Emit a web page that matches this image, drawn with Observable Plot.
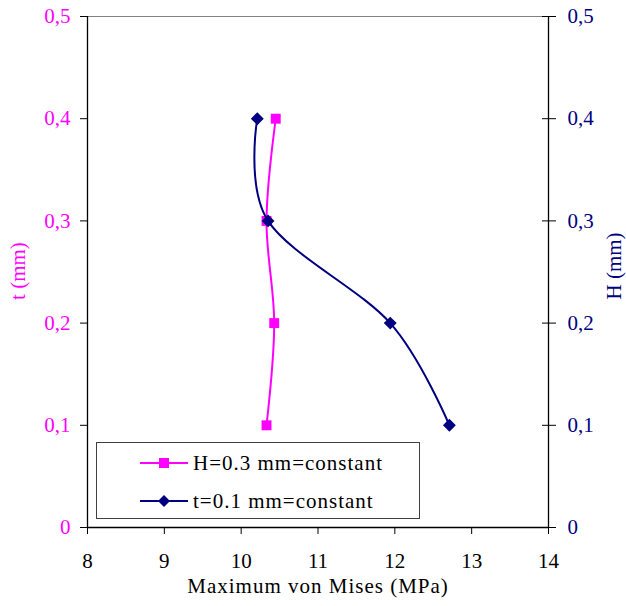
<!DOCTYPE html>
<html>
<head>
<meta charset="utf-8">
<script src="https://cdn.jsdelivr.net/npm/d3@7"></script>
<script src="https://cdn.jsdelivr.net/npm/@observablehq/plot@0.6"></script>
<style>
  html, body { margin: 0; padding: 0; background: #fff; }
  #wrap { position: relative; width: 626px; height: 606px; }
  #legend { position: absolute; left: 96px; top: 442px; width: 324px; height: 77px;
    border: 1px solid #404040; background: #fff; box-sizing: border-box;
    font-family: "Liberation Serif", "Times New Roman", serif; font-size: 21px; letter-spacing: 1px; }
  .row { position: absolute; left: 43px; height: 24px; display: flex; align-items: center; }
  .row svg { display: block; }
  .row span { margin-left: 5px; line-height: 24px; }
</style>
</head>
<body>
<div id="wrap"></div>
<script>
// Data
const tValues = [0.1, 0.2, 0.3, 0.4];          // t (mm), H = 0.3 mm constant
const misesH = [10.33, 10.43, 10.33, 10.45];    // Maximum von Mises (MPa)
const hValues = [0.1, 0.2, 0.3, 0.4];          // H (mm), t = 0.1 mm constant
const misesT = [12.71, 11.94, 10.35, 10.21];    // Maximum von Mises (MPa)
const xTicks = [8, 9, 10, 11, 12, 13, 14];
const yTicks = [0, 0.1, 0.2, 0.3, 0.4, 0.5];
const seriesNames = ["H=0.3 mm=constant", "t=0.1 mm=constant"];
const seriesColors = ["#FF00FF", "#000080"];

const dataH = tValues.map((y, i) => ({x: misesH[i], y}));
const dataT = hValues.map((y, i) => ({x: misesT[i], y}));
const fmt = d => d === 0 ? "0" : d.toFixed(1).replace(".", ",");
const font = "'Liberation Serif', 'Times New Roman', serif";

const chart = Plot.plot({
  width: 626,
  height: 606,
  marginTop: 16,
  marginRight: 78,
  marginBottom: 79,
  marginLeft: 87,
  style: {fontFamily: font, fontSize: "21px", background: "#fff"},
  x: {domain: [8, 14], ticks: xTicks},
  y: {domain: [0, 0.5], ticks: yTicks},
  marks: [
    Plot.ruleY([0.5], {stroke: "#808080", strokeWidth: 1}),
    Plot.axisX({ticks: xTicks, tickSize: 7, tickPadding: 19, label: null, fontSize: 21, stroke: "black", fill: "black", tickFormat: d => String(d)}),
    Plot.axisY({anchor: "left", ticks: yTicks, tickSize: 7, tickPadding: 10, label: null, fontSize: 21, tickFormat: fmt, stroke: "black", fill: seriesColors[0]}),
    Plot.axisY({anchor: "right", ticks: yTicks, tickSize: 14, dx: -7, tickPadding: 12, label: null, fontSize: 21, tickFormat: fmt, stroke: "black", fill: seriesColors[1]}),
    Plot.ruleX([8], {stroke: "black", strokeWidth: 1.3}),
    Plot.ruleX([14], {stroke: "black", strokeWidth: 1.3}),
    Plot.ruleY([0], {stroke: "black", strokeWidth: 1.3}),
    Plot.line(dataH, {x: "x", y: "y", stroke: seriesColors[0], strokeWidth: 2, curve: "cardinal"}),
    Plot.dot(dataH, {x: "x", y: "y", symbol: "square", r: 5.6, fill: seriesColors[0], stroke: "none"}),
    Plot.line(dataT, {x: "x", y: "y", stroke: seriesColors[1], strokeWidth: 2, curve: "cardinal"}),
    Plot.dot(dataT, {x: "x", y: "y", symbol: "diamond2", r: 5.8, fill: seriesColors[1], stroke: "none"}),
    Plot.text(["Maximum von Mises (MPa)"], {frameAnchor: "bottom", dy: 65, fontSize: 21, fill: "black", fontFamily: font}),
    Plot.text(["t (mm)"], {frameAnchor: "left", textAnchor: "middle", dx: -69, dy: -1, rotate: -90, fontSize: 21, fill: seriesColors[0], fontFamily: font}),
    Plot.text(["H (mm)"], {frameAnchor: "right", textAnchor: "middle", dx: 66, dy: -6, rotate: -90, fontSize: 21, fill: seriesColors[1], fontFamily: font})
  ]
});

const wrap = document.getElementById("wrap");
wrap.appendChild(chart);
chart.querySelectorAll("text").forEach(t => { if (t.textContent.includes("Mises")) t.setAttribute("letter-spacing", "1"); });

// Legend
const legend = document.createElement("div");
legend.id = "legend";
const symbols = [
  '<rect x="19" y="7" width="10" height="10" fill="COLOR"/>',
  '<path d="M24,6 L30,12 L24,18 L18,12 Z" fill="COLOR"/>'
];
seriesNames.forEach((name, i) => {
  const row = document.createElement("div");
  row.className = "row";
  row.style.top = (i === 0 ? 8 : 46) + "px";
  row.innerHTML = '<svg width="48" height="24"><line x1="0" y1="12" x2="48" y2="12" stroke="' + seriesColors[i] + '" stroke-width="2"/>' +
    symbols[i].replace("COLOR", seriesColors[i]) + '</svg><span>' + name + '</span>';
  legend.appendChild(row);
});
wrap.appendChild(legend);
</script>
</body>
</html>
